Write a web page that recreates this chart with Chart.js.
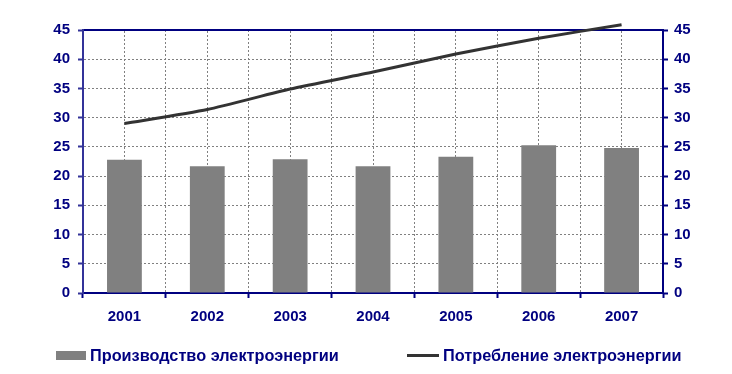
<!DOCTYPE html>
<html>
<head>
<meta charset="utf-8">
<script src="https://cdn.jsdelivr.net/npm/chart.js@4.4.1/dist/chart.umd.min.js"></script>
<style>
  html, body { margin: 0; padding: 0; background: #fff; }
  #wrap { position: relative; width: 732px; height: 374px; }
  #legend { position: absolute; left: 0; top: 345px; width: 732px; height: 20px;
    font: bold 16.3px 'Liberation Sans', Arial, sans-serif; color: #000080; }
  #legend .item { position: absolute; top: 0; line-height: 20px; white-space: nowrap; }
  #legend .box { display: inline-block; vertical-align: middle; margin-right: 4px; position: relative; top: -1px; }
</style>
</head>
<body>
<div id="wrap">
  <canvas id="chart" width="732" height="374"></canvas>
  <div id="legend"></div>
</div>
<script>
// Данные
const years = ['2001', '2002', '2003', '2004', '2005', '2006', '2007'];
const production = [22.8, 21.7, 22.9, 21.7, 23.3, 25.3, 24.8];
const consumption = [29.0, 31.4, 34.9, 37.8, 40.9, 43.6, 45.9];
const seriesNames = ['Производство электроэнергии', 'Потребление электроэнергии'];

const navy = '#000080';
const tickFont = { family: "'Liberation Sans', Arial, sans-serif", size: 15, weight: 'bold' };

const data = {
    labels: years,
    datasets: [
        {
            type: 'line',
            label: seriesNames[1],
            data: consumption,
            borderColor: '#333333',
            borderWidth: 3,
            pointRadius: 0,
            tension: 0.2,
            clip: false,
            order: 0
        },
        {
            type: 'bar',
            label: seriesNames[0],
            data: production,
            backgroundColor: '#808080',
            categoryPercentage: 1,
            barPercentage: 0.42,
            order: 1
        }
    ]
};

const options = {
    responsive: false,
    animation: false,
    layout: { padding: { top: 30, bottom: 41, left: 0, right: 0 } },
    plugins: { legend: { display: false }, tooltip: { enabled: false } },
    scales: {
        x: {
            position: 'bottom',
            offset: true,
            grid: { offset: true, color: '#808080', tickColor: navy, tickWidth: 2, tickLength: 5 },
            border: { color: navy, width: 2, dash: [2, 2] },
            ticks: { color: navy, font: tickFont, padding: 10, maxRotation: 0 },
            afterFit: s => { s.height = 40; }
        },
        x2: {
            position: 'top',
            offset: true,
            grid: { offset: false, color: '#808080', drawTicks: false },
            border: { color: navy, width: 2, dash: [2, 2] },
            ticks: { display: false },
            afterFit: s => { s.height = 0; }
        },
        y: {
            position: 'left',
            min: 0,
            max: 45,
            ticks: { stepSize: 5, color: navy, font: tickFont, padding: 8 },
            grid: {
                color: c => (c.tick.value === 0 || c.tick.value === 45) ? 'rgba(0,0,0,0)' : '#808080',
                tickColor: '#333399', tickWidth: 2, tickLength: 5
            },
            border: { color: '#333399', width: 2, dash: [2, 2] },
            afterFit: s => { s.width = 83; }
        },
        y2: {
            position: 'right',
            min: 0,
            max: 45,
            ticks: { stepSize: 5, color: navy, font: tickFont, padding: 6 },
            grid: { drawOnChartArea: false, tickColor: navy, tickWidth: 2, tickLength: 5 },
            border: { color: navy, width: 2 },
            afterFit: s => { s.width = 69; }
        }
    }
};

new Chart('chart', { data, options });

// Легенда снизу
const legend = document.getElementById('legend');
legend.innerHTML =
    '<div class="item" style="left:56px"><span class="box" style="width:30px;height:9px;background:#808080"></span>' + seriesNames[0] + '</div>' +
    '<div class="item" style="left:407px"><span class="box" style="width:32px;height:3px;background:#333333"></span>' + seriesNames[1] + '</div>';
</script>
</body>
</html>
